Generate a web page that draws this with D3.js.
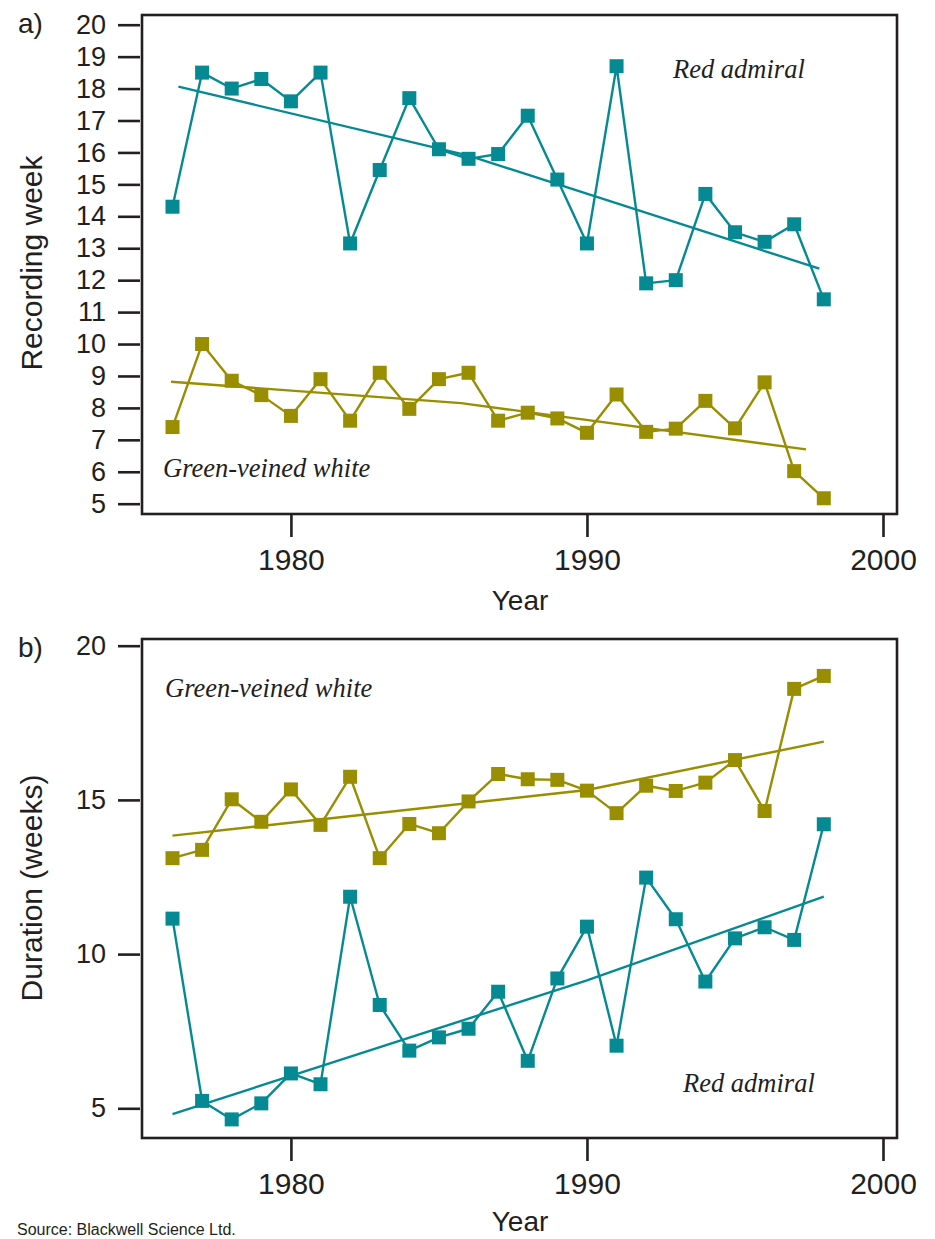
<!DOCTYPE html>
<html>
<head>
<meta charset="utf-8">
<script src="https://cdn.jsdelivr.net/npm/d3@7"></script>
<style>
  html, body { margin: 0; padding: 0; background: #fff; }
  svg { display: block; }
  .tick text { font-family: "Liberation Sans", Arial, sans-serif; fill: #231f20; }
</style>
</head>
<body>
<svg id="chart" width="935" height="1239"></svg>
<script>
// Survey years
const years = [1976, 1977, 1978, 1979, 1980, 1981, 1982, 1983, 1984, 1985, 1986,
               1987, 1988, 1989, 1990, 1991, 1992, 1993, 1994, 1995, 1996, 1997, 1998];

// (a) Recording week of first appearance
const redAdmiralWeek = [14.3, 18.5, 18.0, 18.3, 17.6, 18.5, 13.15, 15.45, 17.7, 16.1, 15.8,
                        15.95, 17.15, 15.15, 13.15, 18.7, 11.9, 12.0, 14.7, 13.5, 13.2, 13.75, 11.4];
const greenVeinedWeek = [7.4, 10.0, 8.85, 8.4, 7.75, 8.9, 7.6, 9.1, 7.97, 8.9, 9.1,
                         7.6, 7.85, 7.67, 7.22, 8.42, 7.25, 7.35, 8.22, 7.36, 8.8, 6.02, 5.17];
const redAdmiralWeekTrend = [[1976.2, 18.06], [1986, 15.9], [1997.85, 12.36]];
const greenVeinedWeekTrend = [[1975.95, 8.82], [1985.75, 8.15], [1997.4, 6.70]];

// (b) Duration of the flight period
const redAdmiralDuration = [11.15, 5.24, 4.64, 5.16, 6.13, 5.78, 11.86, 8.35, 6.87, 7.3, 7.58,
                            8.78, 6.54, 9.21, 10.89, 7.03, 12.48, 11.13, 9.11, 10.51, 10.87, 10.46, 14.21];
const greenVeinedDuration = [13.11, 13.38, 15.02, 14.29, 15.34, 14.19, 15.75, 13.11, 14.22, 13.92, 14.95,
                             15.84, 15.67, 15.65, 15.3, 14.57, 15.46, 15.29, 15.56, 16.29, 14.64, 18.6, 19.02];
const redAdmiralDurationTrend = [[1976, 4.81], [1990, 9.15], [1998, 11.86]];
const greenVeinedDurationTrend = [[1976, 13.84], [1990, 15.32], [1998, 16.89]];

// Tick labels
const yearTicks = [1980, 1990, 2000];
const weekTicks = [5, 6, 7, 8, 9, 10, 11, 12, 13, 14, 15, 16, 17, 18, 19, 20];
const durationTicks = [5, 10, 15, 20];

const TEAL = "#058a94";
const OLIVE = "#988e00";
const INK = "#231f20";
const SANS = "Liberation Sans, Arial, sans-serif";

const svg = d3.select("#chart");

const x = d3.scaleLinear().domain([1976, 2000]).range([172.5, 883]);

function drawPanel(opts) {
  const { frameTop, frameBottom, y, yTicks, letter, letterY, yTitle, yTitleY, yearY, series, labels } = opts;
  const left = 142, right = 897;
  const g = svg.append("g");

  // data lines, trends and markers
  series.forEach(s => {
    const pts = years.map((yr, i) => [yr, s.values[i]]);
    const line = d3.line().x(d => x(d[0])).y(d => y(d[1]));
    g.append("path").datum(pts).attr("d", line)
      .attr("fill", "none").attr("stroke", s.color).attr("stroke-width", 2.4)
      .attr("stroke-linejoin", "round");
    g.append("path").datum(s.trend).attr("d", line)
      .attr("fill", "none").attr("stroke", s.color).attr("stroke-width", 2.4);
    g.selectAll(null).data(pts).enter().append("rect")
      .attr("x", d => x(d[0]) - 7).attr("y", d => y(d[1]) - 7)
      .attr("width", 14).attr("height", 14).attr("fill", s.color);
  });

  // frame
  g.append("rect").attr("x", left).attr("y", frameTop)
    .attr("width", right - left).attr("height", frameBottom - frameTop)
    .attr("fill", "none").attr("stroke", INK).attr("stroke-width", 2.6);

  // y axis
  const ya = g.append("g").attr("transform", "translate(140,0)")
    .call(d3.axisLeft(y).tickValues(yTicks).tickSize(22).tickPadding(12).tickFormat(d3.format("d")));
  ya.select(".domain").remove();
  ya.selectAll(".tick line").attr("stroke", INK).attr("stroke-width", 2.6);
  ya.selectAll(".tick text").attr("font-size", 27);

  // x axis
  const xa = g.append("g").attr("transform", `translate(0,${frameBottom + 1})`)
    .call(d3.axisBottom(x).tickValues(yearTicks).tickSize(22).tickPadding(12).tickFormat(d3.format("d")));
  xa.select(".domain").remove();
  xa.selectAll(".tick line").attr("stroke", INK).attr("stroke-width", 2.6);
  xa.selectAll(".tick text").attr("font-size", 30);

  // x title
  g.append("text").attr("x", 520).attr("y", yearY)
    .attr("text-anchor", "middle").attr("font-family", SANS)
    .attr("font-size", 28).attr("fill", INK).text("Year");

  // y title
  g.append("text").attr("transform", `translate(42,${yTitleY}) rotate(-90)`)
    .attr("text-anchor", "middle").attr("font-family", SANS)
    .attr("font-size", 30).attr("fill", INK).text(yTitle);

  // panel letter
  g.append("text").attr("x", 18).attr("y", letterY)
    .attr("font-family", SANS).attr("font-size", 28)
    .attr("fill", INK).text(letter);

  // species names
  labels.forEach(l => {
    g.append("text").attr("x", l.x).attr("y", l.y)
      .attr("font-family", "Liberation Serif, serif").attr("font-style", "italic")
      .attr("font-size", 26.5).attr("fill", INK).text(l.text);
  });
}

// (a) Recording week
drawPanel({
  frameTop: 15, frameBottom: 514,
  y: d3.scaleLinear().domain([5, 20]).range([503.7, 24.7]),
  yTicks: weekTicks,
  letter: "a)", letterY: 33,
  yTitle: "Recording week", yTitleY: 263,
  yearY: 610,
  series: [
    { values: redAdmiralWeek, trend: redAdmiralWeekTrend, color: TEAL },
    { values: greenVeinedWeek, trend: greenVeinedWeekTrend, color: OLIVE }
  ],
  labels: [
    { text: "Red admiral", x: 673, y: 78 },
    { text: "Green-veined white", x: 163, y: 477 }
  ]
});

// (b) Duration
drawPanel({
  frameTop: 639, frameBottom: 1138,
  y: d3.scaleLinear().domain([5, 20]).range([1108.3, 645.7]),
  yTicks: durationTicks,
  letter: "b)", letterY: 657,
  yTitle: "Duration (weeks)", yTitleY: 888,
  yearY: 1231,
  series: [
    { values: greenVeinedDuration, trend: greenVeinedDurationTrend, color: OLIVE },
    { values: redAdmiralDuration, trend: redAdmiralDurationTrend, color: TEAL }
  ],
  labels: [
    { text: "Green-veined white", x: 165, y: 697 },
    { text: "Red admiral", x: 683, y: 1092 }
  ]
});

// source note
svg.append("text").attr("x", 17).attr("y", 1235)
  .attr("font-family", SANS).attr("font-size", 16)
  .attr("fill", INK).text("Source: Blackwell Science Ltd.");
</script>
</body>
</html>
